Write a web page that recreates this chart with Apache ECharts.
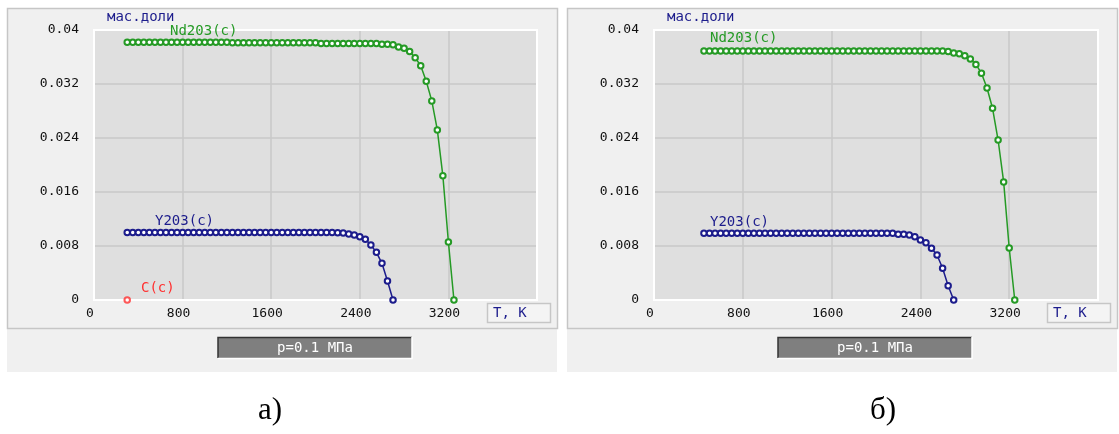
<!DOCTYPE html>
<html><head><meta charset="utf-8">
<script src="https://cdn.jsdelivr.net/npm/echarts@6/dist/echarts.min.js"></script>
<style>html,body{margin:0;padding:0;background:#fff}#c{width:1119px;height:434px}</style>
</head><body><div id="c"></div>
<script>
// ---- data ----
const xTickLabels = ['0','800','1600','2400','3200',''];
const yTickLabels = ['0','0.008','0.016','0.024','0.032','0.04'];

// panel a) temperatures, K
const tempA = [300,350,400,450,500,550,600,650,700,750,800,850,900,950,1000,1050,1100,1150,1200,1250,1300,1350,1400,1450,1500,1550,1600,1650,1700,1750,1800,1850,1900,1950,2000,2050,2100,2150,2200,2250,2300,2350,2400,2450,2500,2550,2600,2650,2700,2750,2800,2850,2900,2950,3000,3050,3100,3150,3200,3250];
const nd2o3A = [0.0382,0.0382,0.0382,0.0382,0.0382,0.0382,0.0382,0.0382,0.0382,0.0382,0.0382,0.0382,0.0382,0.0382,0.0382,0.0382,0.0382,0.0382,0.0382,
  0.0381,0.0381,0.0381,0.0381,0.0381,0.0381,0.0381,0.0381,0.0381,0.0381,0.0381,0.0381,0.0381,0.0381,0.0381,0.0381,
  0.0380,0.0380,0.0380,0.0380,0.0380,0.0380,0.0380,0.0380,0.0380,0.0380,0.0380,
  0.0379,0.0379,0.0378,0.0375,0.0373,0.0368,0.0359,0.0347,0.0324,0.0295,0.0252,0.0184,0.0086,0];
const y2o3A = [0.0100,0.0100,0.0100,0.0100,0.0100,0.0100,0.0100,0.0100,0.0100,0.0100,0.0100,0.0100,0.0100,0.0100,0.0100,0.0100,0.0100,0.0100,0.0100,0.0100,
  0.0100,0.0100,0.0100,0.0100,0.0100,0.0100,0.0100,0.0100,0.0100,0.0100,0.0100,0.0100,0.0100,0.0100,0.0100,0.0100,0.0100,0.0100,0.00998,0.00994,
  0.00978,0.00963,0.00938,0.00899,0.00815,0.00706,0.00543,0.00281,0];
const carbonA = [[300,0]];

// panel б) temperatures, K
const tempB = [450,500,550,600,650,700,750,800,850,900,950,1000,1050,1100,1150,1200,1250,1300,1350,1400,1450,1500,1550,1600,1650,1700,1750,1800,1850,1900,1950,2000,2050,2100,2150,2200,2250,2300,2350,2400,2450,2500,2550,2600,2650,2700,2750,2800,2850,2900,2950,3000,3050,3100,3150,3200,3250];
const nd2o3B = [0.0369,0.0369,0.0369,0.0369,0.0369,0.0369,0.0369,0.0369,0.0369,0.0369,0.0369,0.0369,0.0369,0.0369,0.0369,0.0369,0.0369,0.0369,0.0369,0.0369,0.0369,0.0369,
  0.0369,0.0369,0.0369,0.0369,0.0369,0.0369,0.0369,0.0369,0.0369,0.0369,0.0369,0.0369,0.0369,0.0369,0.0369,0.0369,0.0369,0.0369,0.0369,0.0369,0.0369,0.0369,
  0.0368,0.0366,0.0365,0.0362,0.0357,0.0349,0.0336,0.0314,0.0284,0.0237,0.0175,0.0077,0];
const y2o3B = [0.0099,0.0099,0.0099,0.0099,0.0099,0.0099,0.0099,0.0099,0.0099,0.0099,0.0099,0.0099,0.0099,0.0099,0.0099,0.0099,0.0099,0.0099,
  0.0099,0.0099,0.0099,0.0099,0.0099,0.0099,0.0099,0.0099,0.0099,0.0099,0.0099,0.0099,0.0099,0.0099,0.0099,0.0099,0.0099,
  0.00975,0.00973,0.00963,0.00938,0.00889,0.00849,0.00766,0.00667,0.0047,0.00212,0];

// ---- styling ----
const GREEN = '#259a25', NAVY = '#1c1c8c', RED = '#ff3030';
const MONO = 'DejaVu Sans Mono';
const pairs = (t, v) => v.map((y, i) => [t[i], y]);

function xAx(gi){
  return {type:'value', gridIndex:gi, min:0, max:4000, interval:800,
    axisLine:{show:false}, axisTick:{show:false},
    splitLine:{show:true, lineStyle:{color:'#c9c9c9', width:1.5}},
    axisLabel:{fontFamily:MONO, fontSize:13, color:'#111', margin:7, padding:[0,8,0,0],
      formatter:(v)=> xTickLabels[Math.round(v/800)] }};
}
function yAx(gi){
  return {type:'value', gridIndex:gi, min:0, max:0.04, interval:0.008,
    axisLine:{show:false}, axisTick:{show:false},
    splitLine:{show:true, lineStyle:{color:'#c9c9c9', width:1.5}},
    axisLabel:{fontFamily:MONO, fontSize:13, color:'#111', margin:15, padding:[0,0,8,0],
      formatter:(v)=> yTickLabels[Math.round(v/0.008)] }};
}
function lineS(gi, data, color){
  return {type:'line', xAxisIndex:gi, yAxisIndex:gi, data, clip:false,
    symbol:'emptyCircle', symbolSize:5.5, showAllSymbol:true,
    lineStyle:{color, width:1.5}, itemStyle:{color, borderColor:color, borderWidth:1.1}, z:3};
}

const panels = [{x:7, gl:94, gw:443}, {x:567, gl:654, gw:444}];
const graphic = [];
panels.forEach((p, i) => {
  graphic.push({type:'rect', shape:{x:p.x, y:8, width:550, height:364}, style:{fill:'#f0f0f0'}, z:-10});
  graphic.push({type:'rect', shape:{x:p.x+0.5, y:8.5, width:550, height:320}, style:{fill:'none', stroke:'#c6c6c6', lineWidth:1.5}, z:-9});
  graphic.push({type:'rect', shape:{x:p.gl, y:30, width:p.gw, height:270}, style:{fill:'none', stroke:'#ffffff', lineWidth:2}, z:1});
  graphic.push({type:'text', x:p.x+100, y:17, style:{text:'мас.доли', font:'14px "'+MONO+'"', fill:NAVY, verticalAlign:'middle'}, z:5});
  const bx = p.x + 480;
  graphic.push({type:'rect', shape:{x:bx+0.5, y:303.5, width:63, height:19}, style:{fill:'#f4f4f4', stroke:'#c6c6c6', lineWidth:1.5}, z:2});
  graphic.push({type:'text', x:bx+6, y:313, style:{text:'T, K', font:'14px "'+MONO+'"', fill:NAVY, verticalAlign:'middle'}, z:5});
  const px = p.x + 211;
  graphic.push({type:'rect', shape:{x:px, y:337, width:194, height:21}, style:{fill:'#7f7f7f'}, z:2});
  graphic.push({type:'polyline', shape:{points:[[px,358],[px,337.5],[px+194,337.5]]}, style:{stroke:'#333', lineWidth:1.5, fill:null}, z:3});
  graphic.push({type:'polyline', shape:{points:[[px+194,337],[px+194,358.5],[px,358.5]]}, style:{stroke:'#fff', lineWidth:1.5, fill:null}, z:3});
  graphic.push({type:'text', x:px+97, y:348, style:{text:'p=0.1 МПа', font:'14px "'+MONO+'"', fill:'#fff', align:'center', verticalAlign:'middle'}, z:5});
});
graphic.push({type:'text', x:170, y:31, style:{text:'Nd203(c)', font:'14px "'+MONO+'"', fill:GREEN, verticalAlign:'middle'}, z:5});
graphic.push({type:'text', x:155, y:221, style:{text:'Y203(c)', font:'14px "'+MONO+'"', fill:NAVY, verticalAlign:'middle'}, z:5});
graphic.push({type:'text', x:141, y:288, style:{text:'C(c)', font:'14px "'+MONO+'"', fill:RED, verticalAlign:'middle'}, z:5});
graphic.push({type:'text', x:710, y:38, style:{text:'Nd203(c)', font:'14px "'+MONO+'"', fill:GREEN, verticalAlign:'middle'}, z:5});
graphic.push({type:'text', x:710, y:222, style:{text:'Y203(c)', font:'14px "'+MONO+'"', fill:NAVY, verticalAlign:'middle'}, z:5});
graphic.push({type:'text', x:270, y:411, style:{text:'а)', font:'31px "Liberation Serif"', fill:'#000', align:'center', verticalAlign:'middle'}, z:5});
graphic.push({type:'text', x:883, y:411, style:{text:'б)', font:'31px "Liberation Serif"', fill:'#000', align:'center', verticalAlign:'middle'}, z:5});

const chart = echarts.init(document.getElementById('c'), null, {renderer:'canvas'});
chart.setOption({
  animation:false,
  backgroundColor:'#ffffff',
  grid:[
    {left:94, top:30, width:443, height:270, show:true, backgroundColor:'#dfdfdf', borderWidth:0},
    {left:654, top:30, width:444, height:270, show:true, backgroundColor:'#dfdfdf', borderWidth:0}
  ],
  xAxis:[xAx(0), xAx(1)],
  yAxis:[yAx(0), yAx(1)],
  series:[
    lineS(0, pairs(tempA, nd2o3A), GREEN),
    lineS(0, pairs(tempA, y2o3A), NAVY),
    {type:'scatter', xAxisIndex:0, yAxisIndex:0, data:carbonA, symbol:'emptyCircle', symbolSize:5.5, clip:false,
      itemStyle:{color:RED, borderColor:RED, borderWidth:1.1}, z:3},
    lineS(1, pairs(tempB, nd2o3B), GREEN),
    lineS(1, pairs(tempB, y2o3B), NAVY)
  ],
  graphic
});
</script></body></html>
